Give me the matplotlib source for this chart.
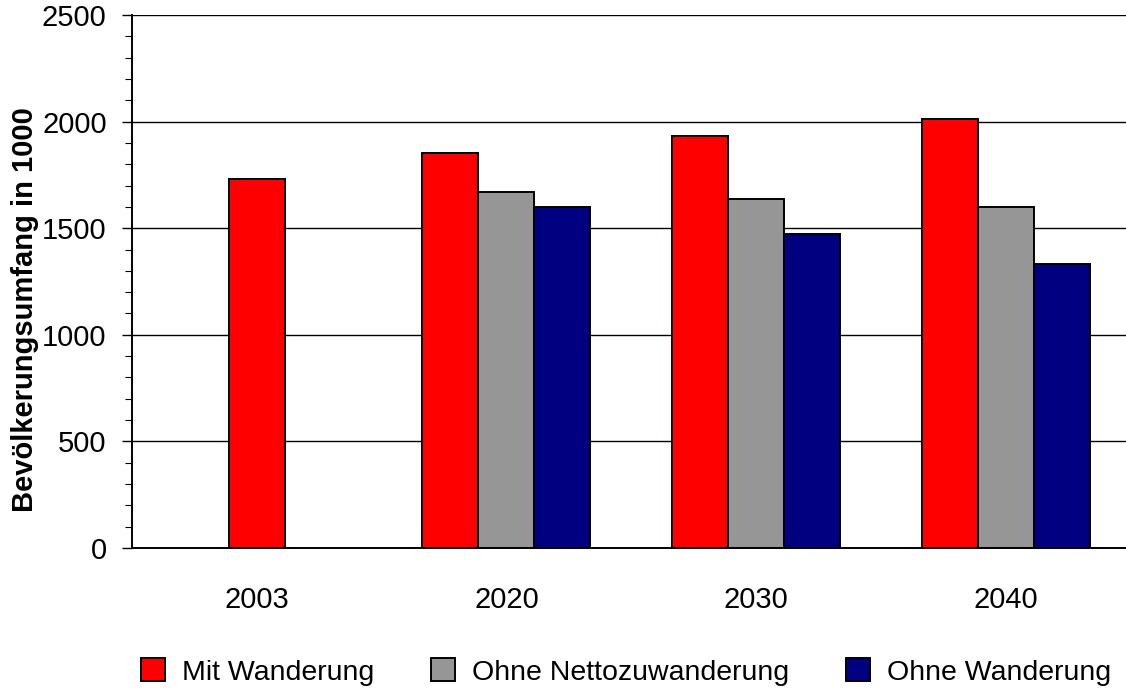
import numpy as np
import matplotlib
matplotlib.use("Agg")
import matplotlib.pyplot as plt
from matplotlib.ticker import MultipleLocator

plt.rcParams['font.family'] = ['Liberation Sans', 'DejaVu Sans']

years = ["2003", "2020", "2030", "2040"]
mit_wanderung = [1731, 1853, 1932, 2012]
ohne_netto = [np.nan, 1670, 1637, 1599]
ohne_wanderung = [np.nan, 1599, 1473, 1332]
series_names = ["Mit Wanderung", "Ohne Nettozuwanderung", "Ohne Wanderung"]
colors = ["#FF0000", "#969696", "#000080"]

fig = plt.figure(figsize=(11.26, 6.88), dpi=100)
ax = fig.add_axes([131.7/1126, 1-548/688, 1-131.7/1126, (548-15)/688])

series = [mit_wanderung, ohne_netto, ohne_wanderung]
width = 0.224
x = np.arange(len(years))
for i in range(len(years)):
    present = [k for k in range(3) if not np.isnan(series[k][i])]
    n = len(present)
    for j, k in enumerate(present):
        off = (j - (n - 1) / 2) * width
        ax.bar(x[i] + off, series[k][i], width=width, color=colors[k],
               edgecolor="black", linewidth=1.4, zorder=3)

ax.set_xlim(-0.5, 3.48)
ax.set_ylim(0, 2500)
ax.yaxis.set_major_locator(MultipleLocator(500))
ax.yaxis.set_minor_locator(MultipleLocator(100))
ax.grid(axis='y', which='major', color='black', linewidth=1.0, zorder=0)
ax.set_xticks(x)
ax.set_xticklabels(years)
ax.tick_params(axis='x', length=0, pad=27, labelsize=21)
ax.tick_params(axis='y', which='major', length=7, width=1, labelsize=21, pad=11)
ax.tick_params(axis='y', which='minor', length=5, width=0.8)
for s in ['top', 'right']:
    ax.spines[s].set_visible(False)
ax.spines['left'].set_linewidth(1.4)
ax.spines['bottom'].set_linewidth(1.4)
ax.set_ylabel("Bevölkerungsumfang in 1000", fontsize=21, fontweight='bold')
ax.yaxis.set_label_coords((25 - 131.7) / (1126 - 131.7), (548 - 310) / 533)
ax.yaxis.label.set_verticalalignment('center')

handles = [plt.Rectangle((0, 0), 1, 1, facecolor=c, edgecolor='black', linewidth=1.4) for c in colors]
fig.legend(handles, series_names, loc='center', bbox_to_anchor=(0.556, 1-672/688), ncol=3,
           frameon=False, fontsize=20.5, handlelength=0.84, handleheight=0.84,
           handletextpad=0.6, columnspacing=2.0)

fig.savefig("out.png", dpi=100)
